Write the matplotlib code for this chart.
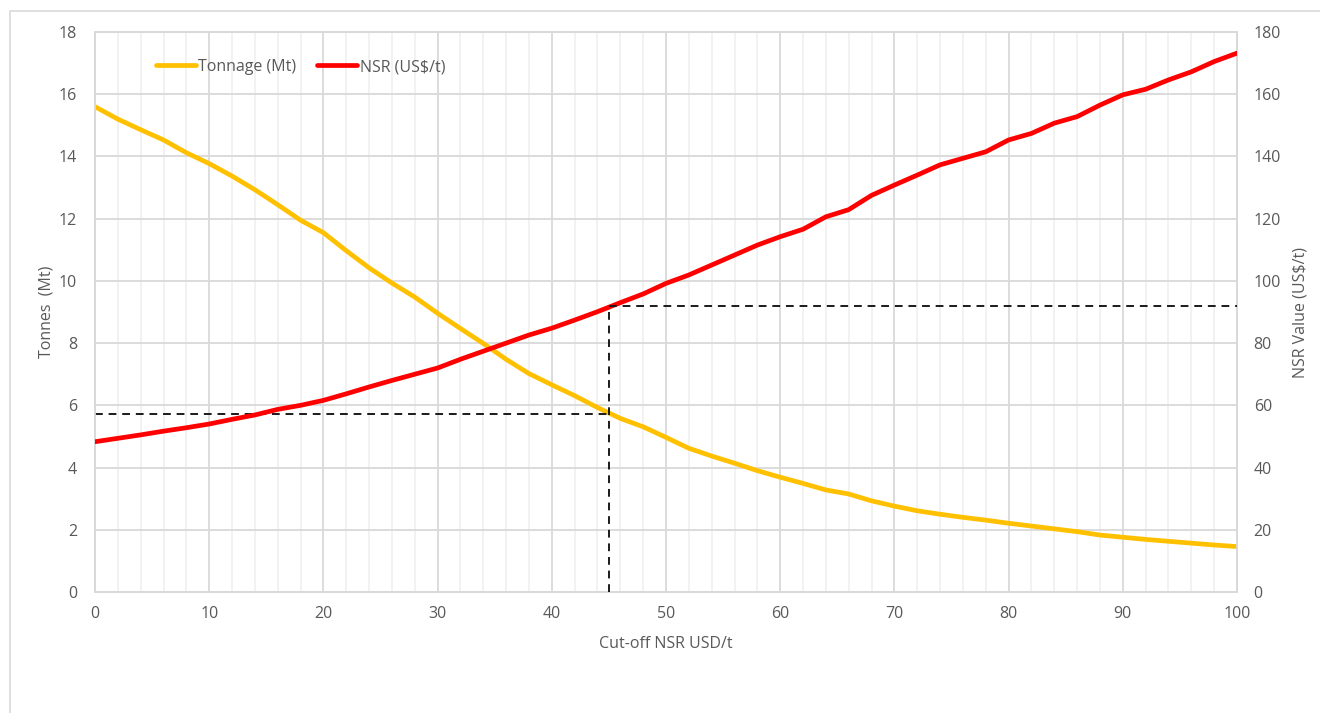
import matplotlib
matplotlib.use("Agg")
import matplotlib.pyplot as plt
from matplotlib.patches import Rectangle
from matplotlib.ticker import MultipleLocator

plt.rcParams['font.family'] = ['Open Sans', 'DejaVu Sans']

cutoff = [0, 2, 4, 6, 8, 10, 12, 14, 16, 18, 20, 22, 24, 26, 28, 30, 32, 34, 36, 38,
          40, 42, 44, 46, 48, 50, 52, 54, 56, 58, 60, 62, 64, 66, 68, 70, 72, 74, 76, 78,
          80, 82, 84, 86, 88, 90, 92, 94, 96, 98, 100]
tonnage = [15.6, 15.2, 14.86, 14.53, 14.12, 13.77, 13.37, 12.93, 12.45, 11.95, 11.55,
           10.97, 10.42, 9.93, 9.48, 8.96, 8.47, 7.99, 7.48, 7.02, 6.66, 6.31, 5.93, 5.58,
           5.31, 4.97, 4.62, 4.37, 4.14, 3.9, 3.69, 3.49, 3.28, 3.15, 2.93, 2.76, 2.61,
           2.5, 2.4, 2.31, 2.21, 2.12, 2.03, 1.94, 1.83, 1.76, 1.69, 1.63, 1.57, 1.51, 1.46]
nsr = [48.3, 49.4, 50.5, 51.7, 52.8, 54.0, 55.5, 56.9, 58.7, 60.0, 61.6, 63.7, 65.9,
       68.0, 70.0, 72.0, 74.8, 77.4, 80.0, 82.6, 84.8, 87.4, 90.1, 93.0, 95.8, 99.2,
       101.9, 105.1, 108.3, 111.5, 114.2, 116.6, 120.6, 122.9, 127.5, 130.8, 134.0,
       137.3, 139.4, 141.5, 145.3, 147.4, 150.7, 152.8, 156.5, 159.8, 161.6, 164.6,
       167.2, 170.5, 173.2]

sel_cutoff = 45
sel_tonnage = 5.73
sel_nsr = 91.9

GOLD = '#FFC000'
RED = '#FF0000'
TXT = '#595959'
GRID = '#d9d9d9'
MINOR = '#efefef'
FS = 11.5

fig = plt.figure(figsize=(13.2, 7.13), dpi=100)
fig.patches.append(Rectangle((10 / 1320, -0.1), 1.2, 1 - 11 / 713 + 0.1,
                             transform=fig.transFigure, fill=False,
                             edgecolor='#d9d9d9', linewidth=1.2))

ax = fig.add_axes([95 / 1320, 1 - 592 / 713, (1237 - 95) / 1320, (592 - 32) / 713])
ax2 = ax.twinx()

ax.set_xlim(0, 100)
ax.set_ylim(0, 18)
ax2.set_ylim(0, 180)

ax.xaxis.set_major_locator(MultipleLocator(10))
ax.xaxis.set_minor_locator(MultipleLocator(2))
ax.yaxis.set_major_locator(MultipleLocator(2))
ax2.yaxis.set_major_locator(MultipleLocator(20))

ax.grid(which='major', axis='both', color=GRID, linewidth=1.3)
ax.grid(which='minor', axis='x', color=MINOR, linewidth=1.1)
ax.set_axisbelow(True)

for a in (ax, ax2):
    for s in a.spines.values():
        s.set_color(GRID)
        s.set_linewidth(1.3)
    a.tick_params(which='both', length=0, labelsize=FS, labelcolor=TXT)
ax.tick_params(axis='x', pad=10)
ax.tick_params(axis='y', pad=13)
ax2.tick_params(axis='y', pad=12)

l1, = ax.plot(cutoff, tonnage, color=GOLD, linewidth=3.4, solid_capstyle='round',
              label='Tonnage (Mt)', zorder=3)
l2, = ax2.plot(cutoff, nsr, color=RED, linewidth=3.4, solid_capstyle='round',
               label='NSR (US$/t)', zorder=3)

dash = dict(color='#1a1a1a', linewidth=1.4, dashes=(4, 3), zorder=4)
ax.plot([0, sel_cutoff], [sel_tonnage, sel_tonnage], **dash)
ax2.plot([sel_cutoff, sel_cutoff], [0, sel_nsr], **dash)
ax2.plot([sel_cutoff, 100], [sel_nsr, sel_nsr], **dash)

ax.set_xlabel('Cut-off NSR USD/t', fontsize=FS, color=TXT, labelpad=10)
ax.set_ylabel('Tonnes  (Mt)', fontsize=FS, color=TXT, labelpad=3)
ax2.set_ylabel('NSR Value (US$/t)', fontsize=FS, color=TXT, labelpad=8)

leg = ax.legend(handles=[l1, l2], loc='center', bbox_to_anchor=(0.18, 0.9375),
                ncol=2, frameon=False, fontsize=FS, handlelength=2.5,
                handletextpad=0.15, columnspacing=1.3)
for t in leg.get_texts():
    t.set_color(TXT)

fig.savefig('out.png', dpi=100, facecolor='white')
